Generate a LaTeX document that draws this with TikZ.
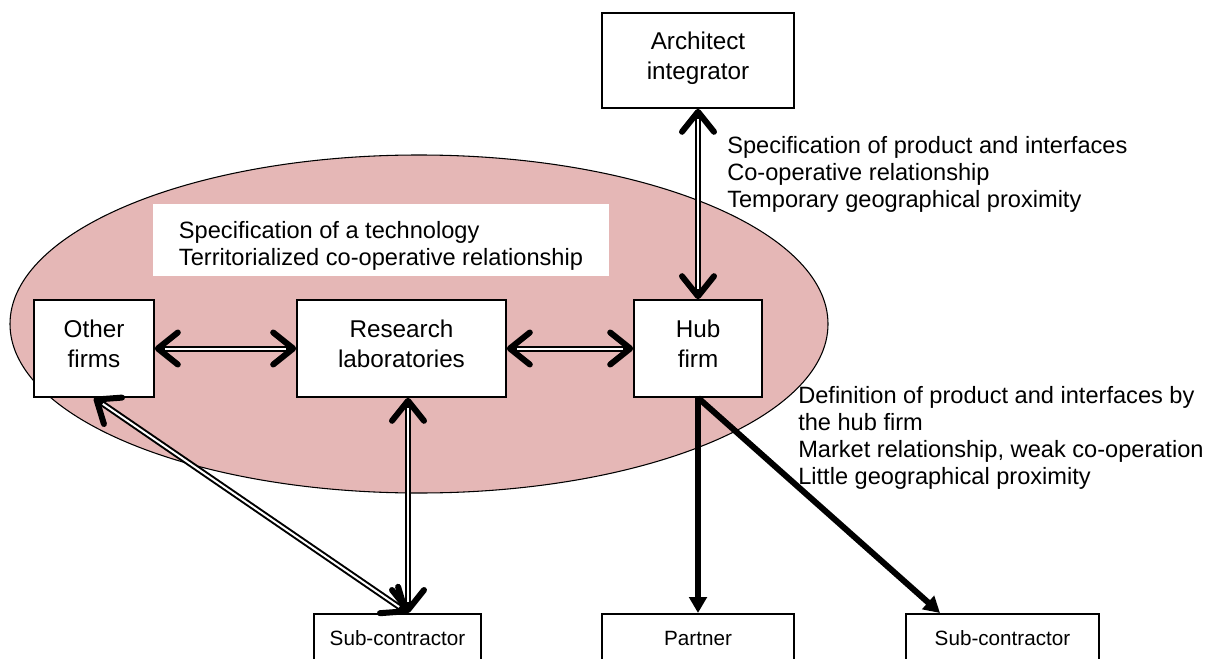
\documentclass[tikz,border=0pt]{standalone}
\usepackage{fontspec}
\setmainfont{Liberation Sans}
\usetikzlibrary{arrows.meta}
\definecolor{clusterpink}{RGB}{229,183,182}

\begin{document}
\begin{tikzpicture}[
            x=0.75pt, y=-0.75pt,
            box/.style={draw, fill=white, line width=1.2pt, align=center, inner sep=0pt,
                text height=50.25pt, text depth=22.5pt, font=\fontsize{18.2}{22.5}\selectfont},
            smallbox/.style={draw, fill=white, line width=1.2pt, inner sep=0pt, anchor=north,
                font=\fontsize{15.5}{17}\selectfont},
            note/.style={align=left, anchor=west, inner sep=0pt, font=\fontsize{17.7}{20.25}\selectfont},
            twoway/.style={line width=4.5pt,
                {Straight Barb[length=15pt, width=24pt, round]}-{Straight Barb[length=15pt, width=24pt, round]}},
            twowayin/.style={line width=1.5pt, white, shorten <=8pt, shorten >=8pt},
            oneway/.style={line width=4.5pt, -{Triangle[length=12pt, width=13pt]}},
    ]
    \useasboundingbox (0,0) rectangle (1216,659);

    % cluster
    \draw[fill=clusterpink, line width=0.8pt] (419,324) ellipse [x radius=306.75pt, y radius=126.75pt];
    \node[note, fill=white, anchor=center, inner xsep=15pt, minimum width=342pt,
        text height=45.75pt, text depth=8.25pt]
        (technote) at (381,240) {Specification of a technology\\Territorialized co-operative relationship};

    \node[box, minimum width=90pt] (other) at (94,348.5) {Other\\firms};
    \node[box, minimum width=156.75pt] (labs) at (401.5,348.5) {Research\\laboratories};
    \node[box, minimum width=96pt] (hub) at (698,348.5) {Hub\\firm};
    \node[box, minimum width=144pt, text depth=21pt] (architect) at (698,60.5) {Architect\\integrator};

    \node[smallbox, minimum width=125.25pt, minimum height=36.75pt] (subleft) at (397.5,613) {Sub-contractor};
    \node[smallbox, minimum width=144pt, minimum height=36.75pt] (partner) at (698,613) {Partner};
    \node[smallbox, minimum width=144.75pt, minimum height=36.75pt] (subright) at (1002.5,613) {Sub-contractor};
    \coordinate (subtip) at (408,613);
    \coordinate (subhit) at (940,613);

    \node[note] (archnote) at (727,174)
        {Specification of product and interfaces\\Co-operative relationship\\Temporary geographical proximity};
    \node[note] (hubnote) at (798,438)
        {Definition of product and interfaces by\\the hub firm\\Market relationship, weak co-operation\\Little geographical proximity};

    % double links
    \foreach \from/\to in {other/labs, labs/hub, architect/hub} {
        \draw[twoway] (\from) -- (\to);
        \draw[twowayin] (\from) -- (\to);
    }
    \draw[twoway] (labs.south -| subtip) -- (subtip);
    \draw[twowayin] (labs.south -| subtip) -- (subtip);
    \draw[twoway] (other.south) -- (subtip);
    \draw[twowayin] (other.south) -- (subtip);

    % hub links
    \draw[oneway] (hub.south) -- (partner.north);
    \draw[oneway] (hub.south) -- (subhit);
    \end{tikzpicture}
\end{document}
